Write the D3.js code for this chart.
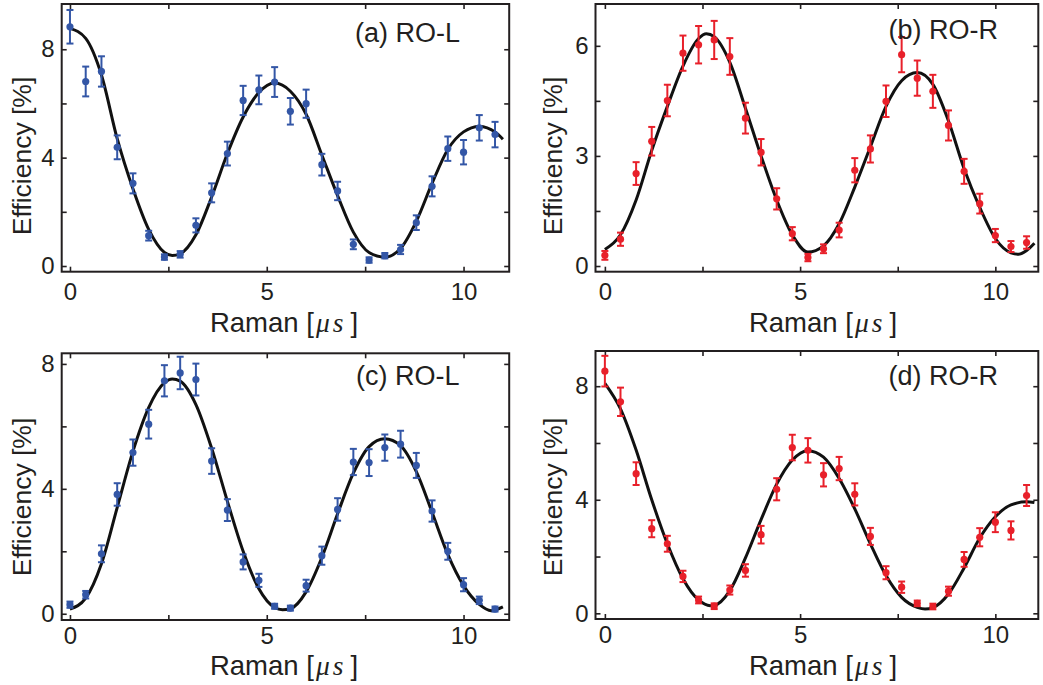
<!DOCTYPE html>
<html>
<head>
<meta charset="utf-8">
<script src="https://cdn.jsdelivr.net/npm/d3@7"></script>
<style>
  html, body { margin: 0; padding: 0; background: #fff; }
  svg { display: block; }
</style>
</head>
<body>
<svg id="chart" width="1043" height="685"></svg>
<script>
// Raman pulse durations (µs) at which the efficiency was measured
const ramanTimes = [0, 0.4, 0.8, 1.2, 1.6, 2.0, 2.4, 2.8, 3.2, 3.6, 4.0, 4.4, 4.8, 5.2,
                    5.6, 6.0, 6.4, 6.8, 7.2, 7.6, 8.0, 8.4, 8.8, 9.2, 9.6, 10.0, 10.4, 10.8];

// (a) RO-L
const effA = [8.83, 6.81, 7.18, 4.38, 3.05, 1.12, 0.33, 0.43, 1.5, 2.7, 4.15, 6.11, 6.5, 6.79,
              5.71, 5.99, 3.74, 2.77, 0.8, 0.22, 0.38, 0.61, 1.6, 2.94, 4.33, 4.2, 5.1, 4.85];
const errA = [0.62, 0.55, 0.56, 0.44, 0.37, 0.18, 0.1, 0.12, 0.26, 0.35, 0.44, 0.54, 0.53, 0.55,
              0.49, 0.52, 0.40, 0.34, 0.18, 0.1, 0.1, 0.17, 0.27, 0.37, 0.45, 0.45, 0.47, 0.47];
const fitAx = [0, 0.4, 0.8, 1.2, 1.6, 2.0, 2.4, 2.6, 2.8, 3.2, 3.6, 4.0, 4.4, 4.8, 5.2, 5.6, 6.0,
               6.4, 6.8, 7.2, 7.6, 8.0, 8.4, 8.8, 9.2, 9.6, 10.0, 10.4, 10.8, 11.0];
const fitAy = [8.77, 8.4, 7.05, 4.7, 2.85, 1.35, 0.5, 0.39, 0.45, 1.15, 2.55, 4.15, 5.5, 6.4, 6.75,
               6.45, 5.6, 4.1, 2.6, 1.25, 0.5, 0.33, 0.65, 1.65, 3.05, 4.3, 4.95, 5.15, 4.95, 4.68];

// (b) RO-R
const effB = [0.29, 0.73, 2.52, 3.4, 4.51, 5.8, 6.03, 6.16, 5.71, 4.03, 3.1, 1.83, 0.88, 0.23,
              0.47, 0.98, 2.61, 3.19, 4.49, 5.76, 5.12, 4.76, 3.83, 2.58, 1.7, 0.83, 0.53, 0.64];
const errB = [0.12, 0.18, 0.31, 0.39, 0.43, 0.48, 0.51, 0.52, 0.5, 0.42, 0.36, 0.29, 0.18, 0.1,
              0.12, 0.2, 0.33, 0.37, 0.43, 0.48, 0.48, 0.45, 0.41, 0.34, 0.27, 0.18, 0.15, 0.17];
const fitBx = [0, 0.4, 0.8, 1.2, 1.6, 2.0, 2.4, 2.6, 2.8, 3.2, 3.6, 4.0, 4.4, 4.8, 5.2, 5.6, 6.0,
               6.4, 6.8, 7.2, 7.6, 8.0, 8.4, 8.8, 9.2, 9.6, 10.0, 10.4, 10.6, 10.8, 11.0];
const fitBy = [0.45, 0.85, 1.8, 3.15, 4.35, 5.45, 6.2, 6.33, 6.25, 5.55, 4.3, 3.0, 1.8, 0.85, 0.38,
               0.55, 1.15, 2.15, 3.25, 4.35, 5.05, 5.27, 4.95, 3.95, 2.65, 1.6, 0.75, 0.36, 0.32,
               0.42, 0.62];

// (c) RO-L
const effC = [0.29, 0.61, 1.92, 3.82, 5.16, 6.07, 7.46, 7.71, 7.5, 4.89, 3.32, 1.66, 1.07, 0.24,
              0.18, 0.9, 1.86, 3.34, 4.86, 4.84, 5.32, 5.43, 4.75, 3.29, 2.0, 0.93, 0.43, 0.15];
const errC = [0.1, 0.12, 0.27, 0.36, 0.42, 0.46, 0.5, 0.52, 0.51, 0.41, 0.35, 0.24, 0.21, 0.08,
              0.08, 0.19, 0.29, 0.36, 0.42, 0.43, 0.42, 0.43, 0.4, 0.34, 0.27, 0.21, 0.12, 0.08];
const fitCx = [0, 0.4, 0.8, 1.2, 1.6, 2.0, 2.4, 2.6, 2.8, 3.2, 3.6, 4.0, 4.4, 4.8, 5.2, 5.4, 5.6,
               6.0, 6.4, 6.8, 7.2, 7.6, 8.0, 8.4, 8.8, 9.2, 9.6, 10.0, 10.4, 10.7, 11.0];
const fitCy = [0.15, 0.5, 1.6, 3.4, 5.2, 6.6, 7.4, 7.52, 7.45, 6.7, 5.3, 3.6, 2.0, 0.8, 0.2, 0.13,
               0.16, 0.7, 1.8, 3.2, 4.5, 5.35, 5.6, 5.38, 4.55, 3.25, 1.9, 0.9, 0.3, 0.1, 0.22];

// (d) RO-R
const effD = [8.53, 7.45, 4.92, 2.98, 2.45, 1.3, 0.47, 0.25, 0.82, 1.51, 2.77, 4.37, 5.84, 5.74,
              4.88, 5.1, 4.19, 2.71, 1.43, 0.92, 0.35, 0.24, 0.78, 1.9, 2.68, 3.21, 2.92, 4.15];
const errD = [0.54, 0.5, 0.4, 0.3, 0.28, 0.2, 0.12, 0.1, 0.16, 0.22, 0.31, 0.39, 0.45, 0.43,
              0.41, 0.41, 0.39, 0.3, 0.23, 0.2, 0.1, 0.1, 0.16, 0.26, 0.32, 0.35, 0.32, 0.37];
const fitDx = [0, 0.4, 0.8, 1.2, 1.6, 2.0, 2.4, 2.7, 2.8, 3.2, 3.6, 4.0, 4.4, 4.8, 5.2, 5.6, 6.0,
               6.4, 6.8, 7.2, 7.6, 8.0, 8.2, 8.4, 8.8, 9.2, 9.6, 10.0, 10.4, 10.8, 11.0];
const fitDy = [8.1, 7.2, 5.75, 4.0, 2.45, 1.22, 0.47, 0.27, 0.28, 0.8, 1.95, 3.3, 4.55, 5.4, 5.73,
               5.5, 4.75, 3.68, 2.45, 1.33, 0.56, 0.21, 0.15, 0.2, 0.68, 1.6, 2.65, 3.4, 3.82,
               3.93, 3.9];

// Axis ticks
const xTicks = [0, 2.5, 5, 7.5, 10];
const xTickLabels = ["0", "", "5", "", "10"];
const yTicksL = [0, 2, 4, 6, 8];
const yTickLabelsL = ["0", "", "4", "", "8"];
const yTicksB = [0, 1.5, 3, 4.5, 6];
const yTickLabelsB = ["0", "", "3", "", "6"];

const panelTitles = ["(a) RO-L", "(b) RO-R", "(c) RO-L", "(d) RO-R"];
const xTitle = "Raman";
const yTitle = "Efficiency [%]";

const BLUE = "#3356a6";
const RED = "#e8202a";
const INK = "#231f20";
const SANS = "'Liberation Sans', Arial, Helvetica, sans-serif";
const SERIF = "'Liberation Serif', 'Times New Roman', serif";

const panels = [
  { title: panelTitles[0], y: effA, err: errA, fx: fitAx, fy: fitAy, color: BLUE,
    box: { l: 61.7, r: 509.2, t: 4, b: 271.7 }, xd: [-0.21, 11.16], yd: [-0.21, 9.67],
    yt: yTicksL, ytl: yTickLabelsL, tickPad: 11,
    titleAt: [460, 41.5], yTitleAt: [31, 156], xTitleAt: [284, 332] },
  { title: panelTitles[1], y: effB, err: errB, fx: fitBx, fy: fitBy, color: RED,
    box: { l: 595.5, r: 1038.3, t: 4, b: 271.7 }, xd: [-0.24, 11.1], yd: [-0.155, 7.14],
    yt: yTicksB, ytl: yTickLabelsB, tickPad: 11,
    titleAt: [998, 38.5], yTitleAt: [562, 156], xTitleAt: [823, 332] },
  { title: panelTitles[2], y: effC, err: errC, fx: fitCx, fy: fitCy, color: BLUE,
    box: { l: 61.7, r: 509.2, t: 353.3, b: 620 }, xd: [-0.21, 11.16], yd: [-0.2, 8.34],
    yt: yTicksL, ytl: yTickLabelsL, tickPad: 7,
    titleAt: [459.5, 385], yTitleAt: [31, 497], xTitleAt: [284, 675] },
  { title: panelTitles[3], y: effD, err: errD, fx: fitDx, fy: fitDy, color: RED,
    box: { l: 595.5, r: 1038.3, t: 351, b: 619 }, xd: [-0.24, 11.1], yd: [-0.2, 9.24],
    yt: yTicksL, ytl: yTickLabelsL, tickPad: 7,
    titleAt: [998, 385], yTitleAt: [562, 497], xTitleAt: [823, 675] }
];

const svg = d3.select("#chart");

panels.forEach(p => {
  const { l, r, t, b } = p.box;
  const x = d3.scaleLinear().domain(p.xd).range([l, r]);
  const y = d3.scaleLinear().domain(p.yd).range([b, t]);
  const g = svg.append("g");

  const labelOf = (ticks, labels) => d => labels[ticks.indexOf(d)] || "";

  // inward ticks on all four sides
  const styleAxis = sel => {
    sel.select(".domain").remove();
    sel.selectAll(".tick line").attr("stroke", INK).attr("stroke-width", 1.6);
    sel.selectAll(".tick text").attr("fill", INK).style("font-family", SANS).style("font-size", "24px");
  };
  g.append("g").attr("transform", `translate(0,${b})`)
    .call(d3.axisBottom(x).tickValues(xTicks).tickFormat(labelOf(xTicks, xTickLabels))
      .tickSizeInner(-5).tickSizeOuter(0).tickPadding(p.tickPad))
    .call(styleAxis);
  g.append("g").attr("transform", `translate(0,${t})`)
    .call(d3.axisTop(x).tickValues(xTicks).tickFormat("").tickSizeInner(-5).tickSizeOuter(0))
    .call(styleAxis);
  g.append("g").attr("transform", `translate(${l},0)`)
    .call(d3.axisLeft(y).tickValues(p.yt).tickFormat(labelOf(p.yt, p.ytl))
      .tickSizeInner(-5).tickSizeOuter(0).tickPadding(7))
    .call(styleAxis);
  g.append("g").attr("transform", `translate(${r},0)`)
    .call(d3.axisRight(y).tickValues(p.yt).tickFormat("").tickSizeInner(-5).tickSizeOuter(0))
    .call(styleAxis);

  // frame
  g.append("rect").attr("x", l).attr("y", t).attr("width", r - l).attr("height", b - t)
    .attr("fill", "none").attr("stroke", INK).attr("stroke-width", 2);

  // fitted curve
  const fit = p.fx.map((v, i) => [v, p.fy[i]]);
  g.append("path").datum(fit)
    .attr("fill", "none").attr("stroke", "#111").attr("stroke-width", 3)
    .attr("stroke-linejoin", "round")
    .attr("d", d3.line().x(d => x(d[0])).y(d => y(d[1])).curve(d3.curveMonotoneX));

  // measured points with error bars
  const pts = ramanTimes.map((tv, i) => ({ t: tv, v: p.y[i], e: p.err[i] }));
  const eb = g.append("g").attr("stroke", p.color).attr("stroke-width", 2);
  eb.selectAll("line.v").data(pts).join("line").attr("class", "v")
    .attr("x1", d => x(d.t)).attr("x2", d => x(d.t))
    .attr("y1", d => y(d.v - d.e)).attr("y2", d => y(d.v + d.e));
  eb.selectAll("line.top").data(pts).join("line").attr("class", "top")
    .attr("x1", d => x(d.t) - 3.5).attr("x2", d => x(d.t) + 3.5)
    .attr("y1", d => y(d.v + d.e)).attr("y2", d => y(d.v + d.e));
  eb.selectAll("line.bot").data(pts).join("line").attr("class", "bot")
    .attr("x1", d => x(d.t) - 3.5).attr("x2", d => x(d.t) + 3.5)
    .attr("y1", d => y(d.v - d.e)).attr("y2", d => y(d.v - d.e));
  g.append("g").selectAll("circle").data(pts).join("circle")
    .attr("cx", d => x(d.t)).attr("cy", d => y(d.v)).attr("r", 3.6)
    .attr("fill", p.color);

  // panel title
  g.append("text").attr("x", p.titleAt[0]).attr("y", p.titleAt[1])
    .attr("text-anchor", "end").attr("fill", INK)
    .style("font-family", SANS).style("font-size", "27px").text(p.title);

  // axis titles
  const xt = g.append("text").attr("x", p.xTitleAt[0]).attr("y", p.xTitleAt[1])
    .attr("text-anchor", "middle").attr("fill", INK)
    .style("font-family", SANS).style("font-size", "27.5px");
  xt.append("tspan").text(xTitle + " [");
  xt.append("tspan").attr("dx", 2).style("font-family", SERIF).style("font-style", "italic").text("\u03bc");
  xt.append("tspan").attr("dx", 3).style("font-family", SERIF).style("font-style", "italic").text("s");
  xt.append("tspan").attr("dx", 7).text("]");

  g.append("text")
    .attr("transform", `translate(${p.yTitleAt[0]},${p.yTitleAt[1]}) rotate(-90)`)
    .attr("text-anchor", "middle").attr("fill", INK)
    .style("font-family", SANS).style("font-size", "26.5px").text(yTitle);
});
</script>
</body>
</html>
